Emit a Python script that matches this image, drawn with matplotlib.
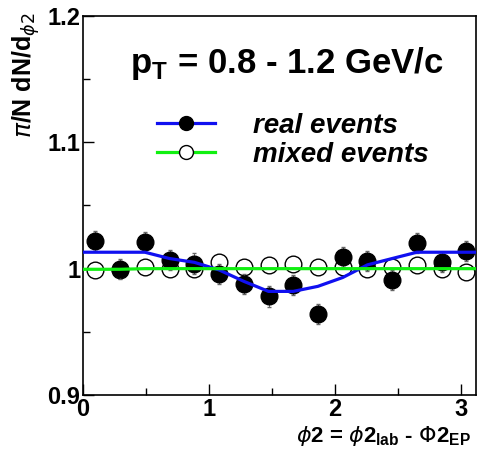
import numpy as np
import matplotlib.pyplot as plt
from matplotlib.lines import Line2D
from matplotlib.ticker import MultipleLocator

plt.rcParams['font.family'] = ['Liberation Sans', 'DejaVu Sans']

# bin centres (16 bins over 0..pi)
phi = [0.098, 0.295, 0.491, 0.687, 0.884, 1.080, 1.276, 1.473,
       1.669, 1.865, 2.062, 2.258, 2.454, 2.651, 2.847, 3.043]
real = [1.022, 1.000, 1.021, 1.007, 1.004, 0.996, 0.988, 0.978,
        0.987, 0.964, 1.009, 1.006, 0.991, 1.020, 1.005, 1.014]
real_err = [0.008] * 16
mixed = [0.999, 0.999, 1.001, 1.000, 1.000, 1.005, 1.001, 1.003,
         1.004, 1.001, 1.001, 1.000, 1.001, 1.003, 1.000, 0.997]
mixed_err = [0.005] * 16

# fit curves
fit_x = [0.0, 0.098, 0.295, 0.491, 0.687, 0.884, 1.080, 1.276, 1.473,
         1.669, 1.865, 2.062, 2.258, 2.454, 2.651, 2.847, 3.043, 3.12]
fit_real = [1.013, 1.013, 1.013, 1.013, 1.008, 1.005, 0.999, 0.990, 0.982,
            0.982, 0.986, 0.993, 1.003, 1.008, 1.013, 1.013, 1.013, 1.013]
fit_mixed = [0.9995, 0.9995, 0.9995, 1.0, 1.0, 1.0, 1.0, 1.0, 1.0,
             1.0, 1.0, 1.0, 1.0, 1.0, 1.0, 1.0, 1.0, 1.0]

fig = plt.figure(figsize=(4.79, 4.49), dpi=100)
ax = fig.add_axes([0.1733, 0.1203, 0.8204, 0.8441])

ax.errorbar(phi, mixed, yerr=mixed_err, fmt='none', ecolor='0.4', elinewidth=0.7,
            capsize=1.5, zorder=2)
ax.plot(phi, mixed, 'o', ms=12, mfc='white', mec='black', mew=1.0, zorder=3)
ax.errorbar(phi, real, yerr=real_err, fmt='none', ecolor='0.4', elinewidth=0.7,
            capsize=1.5, zorder=4)
ax.plot(phi, real, 'o', ms=12, mfc='black', mec='black', zorder=5)
ax.plot(fit_x, fit_real, color='#1010f0', lw=2.3, zorder=6)
ax.plot(fit_x, fit_mixed, color='#10f010', lw=2.3, zorder=6)

ax.set_xlim(0, 3.12)
ax.set_ylim(0.9, 1.2)
ax.xaxis.set_minor_locator(MultipleLocator(0.5))
ax.yaxis.set_minor_locator(MultipleLocator(0.05))
ax.set_xticks([0, 1, 2, 3])
ax.set_xticklabels(['0', '1', '2', '3'])
ax.set_yticks([0.9, 1.0, 1.1, 1.2])
ax.set_yticklabels(['0.9', '1', '1.1', '1.2'])
ax.tick_params(which='both', direction='in', top=False, right=False, width=1)
ax.tick_params(which='major', length=8, labelsize=17)
ax.tick_params(axis='x', which='major', pad=2)
ax.tick_params(axis='y', which='major', pad=2)
ax.tick_params(which='minor', length=5)
for lab in ax.get_xticklabels() + ax.get_yticklabels():
    lab.set_fontweight('bold')
for s in ax.spines.values():
    s.set_linewidth(1.2)

ax.text(1.62, 1.162, r'p$_\mathregular{T}$ = 0.8 - 1.2 GeV/c', fontsize=25,
        fontweight='bold', ha='center', va='center')

h_real = Line2D([], [], color='#1010f0', lw=2.3, marker='o', ms=10,
                mfc='black', mec='black')
h_mixed = Line2D([], [], color='#10f010', lw=2.3, marker='o', ms=10,
                 mfc='white', mec='black')
leg = ax.legend([h_real, h_mixed], ['real events', 'mixed events'],
                loc='upper left', bbox_to_anchor=(0.188, 0.744), frameon=False,
                borderpad=0, borderaxespad=0,
                handlelength=2.1, handletextpad=1.37, labelspacing=0.1,
                prop={'size': 20, 'style': 'italic', 'weight': 'bold'})

fig.text(0.054, 0.972, r'$\pi$/N dN/d$_{\phi2}$', rotation=90, fontsize=18,
         fontweight='bold', ha='center', va='top')
fig.text(0.982, 0.028, r'$\phi$2 = $\phi$2$_\mathregular{lab}$ - $\Phi$2$_\mathregular{EP}$',
         fontsize=16, fontweight='bold', ha='right', va='center')

fig.savefig('out.png', dpi=100)
